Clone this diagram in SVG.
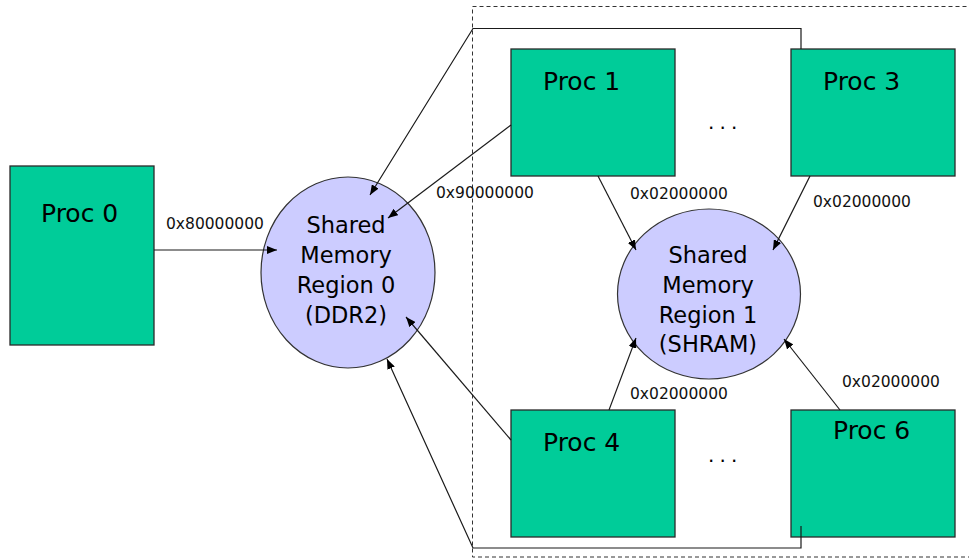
<svg xmlns="http://www.w3.org/2000/svg" width="969" height="558" viewBox="0 0 969 558">
<style>
.proc{fill:#00CC99;stroke:#2a2a2a;stroke-width:1.3}
.mem{fill:#CCCCFF;stroke:#333;stroke-width:1.2}
.pt{font-family:"DejaVu Sans",Verdana,sans-serif;font-size:25px;fill:#000}
.mt{font-family:"DejaVu Sans",Verdana,sans-serif;font-size:22.5px;fill:#000;text-anchor:middle}
.lb{font-family:"DejaVu Sans",Verdana,sans-serif;font-size:15.5px;fill:#111}
.dots{font-family:"DejaVu Sans",Verdana,sans-serif;font-size:20px;fill:#000;letter-spacing:5.1px}
.con{fill:none;stroke:#1a1a1a;stroke-width:1.2}
.frame{fill:none;stroke:#333;stroke-width:1;stroke-dasharray:4 3}
</style>
<defs>
<marker id="ah" viewBox="0 0 10 8" refX="10" refY="4" markerWidth="10" markerHeight="8" markerUnits="userSpaceOnUse" orient="auto">
<path d="M0,0 L10,4 L0,8 z" fill="#000"/>
</marker>
</defs>
<rect id="group-frame" class="frame" x="472.5" y="6.5" width="510" height="550.5"/>
<g id="proc0"><rect class="proc" x="10" y="166" width="144" height="179"/><text class="pt" x="41" y="222">Proc 0</text></g>
<g id="proc1"><rect class="proc" x="511" y="49" width="164" height="127"/><text class="pt" x="543" y="90">Proc 1</text></g>
<g id="proc3"><rect class="proc" x="791" y="49" width="164" height="127"/><text class="pt" x="823" y="90">Proc 3</text></g>
<g id="proc4"><rect class="proc" x="511" y="410" width="164" height="127"/><text class="pt" x="543" y="451">Proc 4</text></g>
<g id="proc6"><rect class="proc" x="791" y="410" width="164" height="127"/><text class="pt" x="833" y="439">Proc 6</text></g>
<g id="dots-top"><text class="dots" x="708" y="129">...</text></g>
<g id="dots-bottom"><text class="dots" x="708" y="462">...</text></g>
<g id="region0">
<ellipse class="mem" cx="348" cy="272.5" rx="87" ry="95.5"/>
<text class="mt" x="346" y="233">Shared</text>
<text class="mt" x="346" y="263">Memory</text>
<text class="mt" x="346" y="293">Region 0</text>
<text class="mt" x="346" y="323">(DDR2)</text>
</g>
<g id="region1">
<ellipse class="mem" cx="709" cy="294" rx="91.5" ry="85"/>
<text class="mt" x="708" y="263">Shared</text>
<text class="mt" x="708" y="293">Memory</text>
<text class="mt" x="708" y="323">Region 1</text>
<text class="mt" x="708" y="352">(SHRAM)</text>
</g>
<g id="connectors">
<line class="con" x1="154" y1="250" x2="277" y2="250" marker-end="url(#ah)"/>
<polyline class="con" points="801,49 801,28.5 473,28.5 370,195" marker-end="url(#ah)"/>
<line class="con" x1="511" y1="125" x2="388" y2="218" marker-end="url(#ah)"/>
<line class="con" x1="511" y1="440" x2="406" y2="317" marker-end="url(#ah)"/>
<polyline class="con" points="801,526 801,548 473,548 387,359" marker-end="url(#ah)"/>
<line class="con" x1="598" y1="176" x2="636" y2="250" marker-end="url(#ah)"/>
<line class="con" x1="810" y1="176" x2="773" y2="250" marker-end="url(#ah)"/>
<line class="con" x1="609" y1="410" x2="636" y2="338" marker-end="url(#ah)"/>
<line class="con" x1="840" y1="410" x2="784" y2="339" marker-end="url(#ah)"/>
<text class="lb" x="166" y="229">0x80000000</text>
<text class="lb" x="436" y="198">0x90000000</text>
<text class="lb" x="630" y="199">0x02000000</text>
<text class="lb" x="813" y="207">0x02000000</text>
<text class="lb" x="630" y="399">0x02000000</text>
<text class="lb" x="842" y="387">0x02000000</text>
</g>
</svg>
